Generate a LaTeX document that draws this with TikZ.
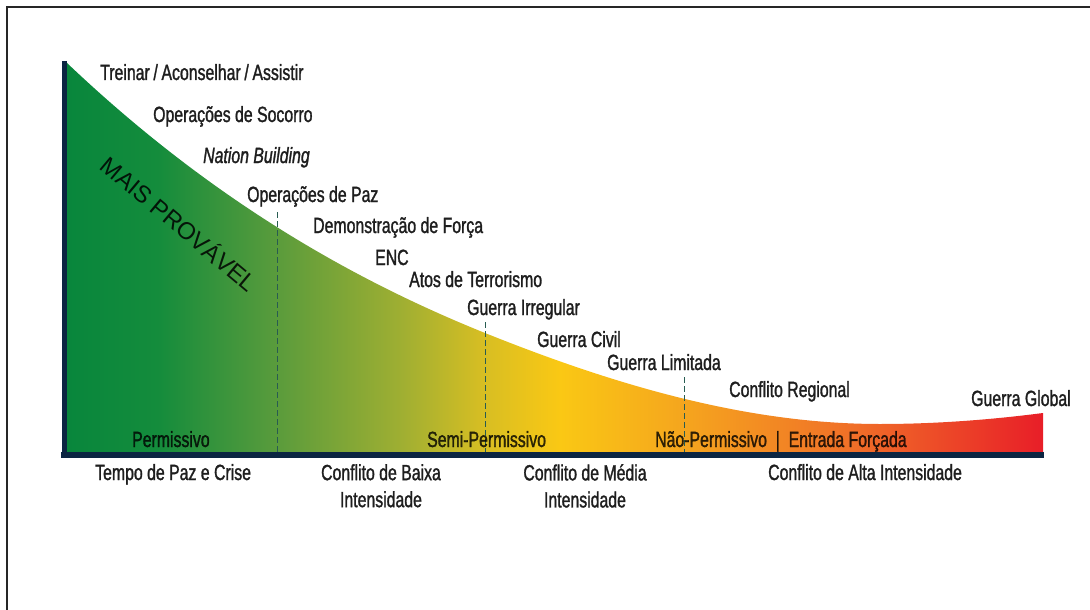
\documentclass[tikz,border=0pt]{standalone}
\usepackage{fontspec}
\setmainfont[FakeStretch=0.72, FakeBold=1.3]{Liberation Sans}
\newfontfamily\widefont{Liberation Sans}

\definecolor{navy}{RGB}{11,37,66}
\definecolor{txt}{RGB}{30,30,30}
\definecolor{divcol}{RGB}{40,92,82}
\definecolor{g0}{RGB}{8,134,60}
\definecolor{g1}{RGB}{20,140,60}
\definecolor{g2}{RGB}{88,155,60}
\definecolor{g3}{RGB}{160,175,50}
\definecolor{g4}{RGB}{215,190,35}
\definecolor{g5}{RGB}{250,200,20}
\definecolor{g6}{RGB}{245,165,30}
\definecolor{g7}{RGB}{240,110,40}
\definecolor{g8}{RGB}{232,30,40}

% the path fills the middle half (25bp to 75bp) of the shading
\pgfdeclarehorizontalshading{risco}{100bp}{color(0bp)=(g0); color(25bp)=(g0);
	color(29.8bp)=(g1); color(35.7bp)=(g2); color(42.3bp)=(g3); color(46.4bp)=(g4);
	color(50.3bp)=(g5); color(56.7bp)=(g6); color(65.4bp)=(g7); color(75bp)=(g8);
	color(100bp)=(g8)}

\tikzset{
	rotulo/.style={anchor=base west, inner sep=0pt, text=txt, font=\fontsize{22}{27}\selectfont},
	faixa/.style={rotulo, text=black, text opacity=0.78},
	nivel/.style={anchor=north, inner sep=0pt, align=center, text=txt, font=\fontsize{22}{27}\selectfont},
	divisa/.style={draw=divcol, line width=1pt, dash pattern=on 6pt off 3pt},
	eixo/.style={draw=navy, line cap=butt}
}

\begin{document}
\begin{tikzpicture}[x=1pt,y=-1pt]

	\useasboundingbox (0,0) rectangle (1090,610);
	\draw [line width=1.5pt, black!85] (7,610) -- (7,7) -- (1090,7);

	\coordinate (A) at (67,63);
	\coordinate (B) at (485,333);
	\coordinate (C) at (880,424);
	\coordinate (D) at (1043,413);
	\coordinate (E) at (1043,455);
	\coordinate (F) at (64,455);
	\coordinate (G) at (64,63);

	\shade [shading=risco] (F) -- (G) -- (A)
		.. controls (206,195) and (346,277) .. (B)
		.. controls (617,386) and (748,424) .. (C)
		.. controls (934,424) and (989,420) .. (D) -- (E) -- cycle;

	\foreach \xx/\yy in {277/212, 485/322, 684/377}
		\draw [divisa] (\xx,\yy) -- (\xx,455);

	\draw [eixo, line width=5pt] (64,61) -- (64,458);
	\draw [eixo, line width=6.5pt] (61,455) -- (1044,455);

	\node [rotulo] (treinar) at (100,80) {Treinar\,/\,Aconselhar\,/\,Assistir};
	\node [rotulo] (socorro) at (153,122) {Operações de Socorro};
	\node [rotulo] (nation) at (203,163) {\itshape Nation Building};
	\node [rotulo] (paz) at (247,202) {Operações de Paz};
	\node [rotulo] (forca) at (313,233) {Demonstração de Força};
	\node [rotulo] (enc) at (375,265) {ENC};
	\node [rotulo] (terror) at (409,287) {Atos de Terrorismo};
	\node [rotulo] (irregular) at (467,315) {Guerra Irregular};
	\node [rotulo] (civil) at (537,347) {Guerra Civil};
	\node [rotulo] (limitada) at (607,370) {Guerra Limitada};
	\node [rotulo] (regional) at (729,397) {Conflito Regional};
	\node [rotulo] (global) at (971,406) {Guerra Global};

	\node [faixa] (perm) at (132,447) {Permissivo};
	\node [faixa] (semi) at (427,447) {Semi-Permissivo};
	\node [faixa] (naoperm) at (655,447) {Não-Permissivo \ | \ Entrada Forçada};

	\node [rotulo] (paz crise) at (95,480) {Tempo de Paz e Crise};
	\node [nivel] (baixa) at (381,464) {Conflito de Baixa\\Intensidade};
	\node [nivel] (media) at (585,464) {Conflito de Média\\Intensidade};
	\node [rotulo] (alta) at (768,480) {Conflito de Alta Intensidade};

	\node [rotate=-40, inner sep=0pt, text=black, text opacity=0.85,
		font=\widefont\fontsize{24}{28}\selectfont] (provavel) at (180,223) {MAIS PROVÁVEL};

\end{tikzpicture}
\end{document}
